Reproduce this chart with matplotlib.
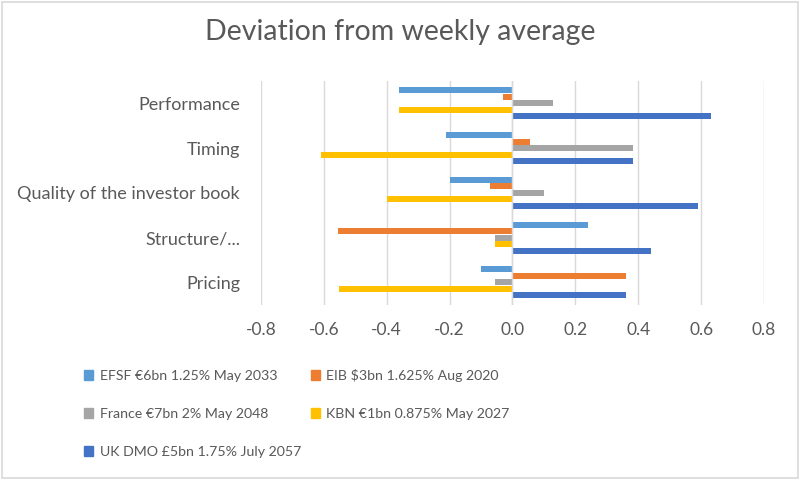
import matplotlib
matplotlib.use('Agg')

import numpy as np
import matplotlib.pyplot as plt
from matplotlib.patches import Patch, Rectangle

# categories, top to bottom as shown
categories = ['Performance', 'Timing', 'Quality of the investor book', 'Structure/...', 'Pricing']

series_names = ['EFSF €6bn 1.25% May 2033', 'EIB $3bn 1.625% Aug 2020',
                'France €7bn 2% May 2048', 'KBN €1bn 0.875% May 2027',
                'UK DMO £5bn 1.75% July 2057']
efsf = [-0.36, -0.21, -0.20, 0.24, -0.10]
eib = [-0.03, 0.055, -0.07, -0.555, 0.36]
france = [0.13, 0.385, 0.10, -0.055, -0.055]
kbn = [-0.36, -0.61, -0.40, -0.055, -0.55]
uk_dmo = [0.63, 0.385, 0.59, 0.44, 0.36]
colors = ['#5B9BD5', '#ED7D31', '#A5A5A5', '#FFC000', '#4472C4']

x_ticks = [-0.8, -0.6, -0.4, -0.2, 0.0, 0.2, 0.4, 0.6, 0.8]

plt.rcParams['font.family'] = ['Lato', 'DejaVu Sans']
text_col = '#595959'

fig = plt.figure(figsize=(8, 4.87), dpi=100)
ax = fig.add_axes([0.326, 0.374, 0.629, 0.46])

all_series = [efsf, eib, france, kbn, uk_dmo]
n = len(all_series)
bar_h = 0.145
y = np.arange(len(categories))
for i, vals in enumerate(all_series):
    offs = (i - (n - 1) / 2) * bar_h
    ax.barh(y + offs, vals, height=bar_h * 0.92, color=colors[i], zorder=3)

ax.set_ylim(len(categories) - 0.5, -0.5)
ax.set_yticks(y)
ax.set_yticklabels(categories, fontsize=13, color=text_col)
ax.set_xlim(-0.8, 0.8)
ax.set_xticks(x_ticks)
ax.set_xticklabels([f'{t:.1f}' for t in x_ticks], fontsize=12.5, color=text_col)
ax.tick_params(length=0)
ax.tick_params(axis='y', pad=15)
ax.tick_params(axis='x', pad=12)
ax.xaxis.grid(True, color='#D9D9D9', linewidth=1, zorder=0)
ax.axvline(0, color='#D9D9D9', linewidth=1, zorder=4)
for s in ax.spines.values():
    s.set_visible(False)

fig.suptitle('Deviation from weekly average', x=0.5, y=0.96, fontsize=20.5, color=text_col)

# legend is filled column by column
handles = [Patch(color=c) for c in colors]
order = [0, 2, 4, 1, 3]
fig.legend([handles[k] for k in order], [series_names[k] for k in order],
           ncol=2, loc='upper left', bbox_to_anchor=(0.105, 0.243),
           frameon=False, fontsize=10.2, labelcolor=text_col,
           handlelength=0.65, handleheight=0.7, handletextpad=0.45,
           borderaxespad=0, borderpad=0,
           columnspacing=0.7, labelspacing=1.85)

# chart border
fig.patches.append(Rectangle((0.002, 0.018), 0.995, 0.978, transform=fig.transFigure,
                             fill=False, edgecolor='#D9D9D9', linewidth=1.2))

fig.savefig('out.png', dpi=100)
